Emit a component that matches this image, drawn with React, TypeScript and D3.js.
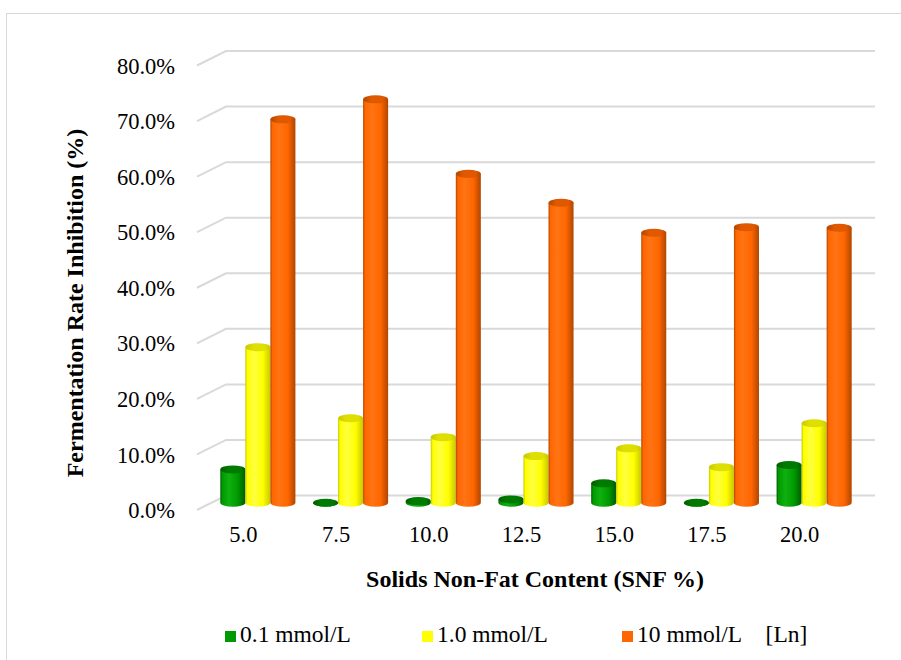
import React from "react";
import * as d3 from "d3";

// SNF categories and inhibition values (fractions) for each lanthanum dose
const categories = ["5.0", "7.5", "10.0", "12.5", "15.0", "17.5", "20.0"];
const seriesNames = ["0.1 mmol/L", "1.0 mmol/L", "10 mmol/L"];
const lowDose = [0.060, 0.0, 0.003, 0.006, 0.035, 0.0, 0.068];
const midDose = [0.280, 0.152, 0.118, 0.084, 0.098, 0.064, 0.143];
const highDose = [0.690, 0.726, 0.592, 0.540, 0.486, 0.496, 0.495];
const yTicks = [0, 0.1, 0.2, 0.3, 0.4, 0.5, 0.6, 0.7, 0.8];

const seriesValues = [lowDose, midDose, highDose];

const palette = [
  { body: "#009a00", light: "#10b010", dark: "#005c00", top: "#007a00" },
  { body: "#ffff00", light: "#ffff40", dark: "#c8c800", top: "#dede00" },
  { body: "#ff6600", light: "#ff7414", dark: "#b04600", top: "#e05800" },
];

const W = 901;
const H = 660;

// 3D projection: front plane origin and depth offset to the back wall
const frontX = 197;
const frontY = 510;
const depthX = 29;
const depthY = -14.5;
const plotW = 649;
const plotH = 444.5;

export default function App() {
  const x = d3
    .scaleBand<string>()
    .domain(categories)
    .range([0, plotW])
    .paddingInner(0.19)
    .paddingOuter(0.095);
  const xs = d3
    .scaleBand<string>()
    .domain(seriesNames)
    .range([0, x.bandwidth()])
    .padding(0);
  const y = d3.scaleLinear().domain([0, 0.8]).range([0, plotH]);
  const fmt = d3.format(".1%");

  const midX = frontX + depthX / 2;
  const midY = frontY + depthY / 2;
  const backX = frontX + depthX;
  const backY = frontY + depthY;

  const rx = xs.bandwidth() / 2;
  const ry = 4;

  const cylinders: React.ReactNode[] = [];
  categories.forEach((c, ci) => {
    seriesNames.forEach((s, si) => {
      const v = seriesValues[si][ci];
      const cx = midX + (x(c) ?? 0) + (xs(s) ?? 0) + rx;
      const yb = midY;
      const yt = midY - y(v);
      const l = cx - rx;
      const r = cx + rx;
      cylinders.push(
        <g key={`${ci}-${si}`}>
          <path
            d={`M${l},${yt} L${l},${yb} A${rx},${ry} 0 0 0 ${r},${yb} L${r},${yt} Z`}
            fill={`url(#grad${si})`}
          />
          <ellipse cx={cx} cy={yt} rx={rx} ry={ry} fill={`url(#top${si})`} />
        </g>
      );
    });
  });

  return (
    <svg
      width={W}
      height={H}
      style={{ position: "absolute", left: 0, top: 0, background: "#fff" }}
      fontFamily="'Liberation Serif', 'Times New Roman', serif"
    >
      <defs>
        {palette.map((p, i) => (
          <linearGradient key={i} id={`grad${i}`} x1="0" x2="1" y1="0" y2="0">
            <stop offset="0" stopColor={p.dark} />
            <stop offset="0.08" stopColor={p.body} />
            <stop offset="0.35" stopColor={p.light} />
            <stop offset="0.7" stopColor={p.body} />
            <stop offset="1" stopColor={p.dark} />
          </linearGradient>
        ))}
        {palette.map((p, i) => (
          <linearGradient key={i} id={`top${i}`} x1="0" x2="1" y1="0" y2="0">
            <stop offset="0" stopColor={p.dark} />
            <stop offset="0.3" stopColor={p.top} />
            <stop offset="0.8" stopColor={p.top} />
            <stop offset="1" stopColor={p.dark} />
          </linearGradient>
        ))}
      </defs>
      <rect x={6.5} y={13.5} width={W} height={H} fill="#fff" stroke="#d9d9d9" strokeWidth={1} />

      {/* gridlines: front-left corner up to the back wall, then across */}
      <g stroke="#d9d9d9" strokeWidth={2} fill="none">
        {yTicks.map((t) => (
          <path
            key={t}
            d={`M${frontX},${frontY - y(t)} L${backX},${backY - y(t)} L${backX + plotW},${backY - y(t)}`}
          />
        ))}
      </g>

      {/* tick labels */}
      <g fontSize={22.5} fill="#000" textAnchor="end">
        {yTicks.map((t) => (
          <text key={t} x={175} y={frontY - y(t) + 3} dominantBaseline="middle">
            {fmt(t)}
          </text>
        ))}
      </g>
      <g fontSize={22.5} fill="#000" textAnchor="middle">
        {categories.map((c) => (
          <text key={c} x={frontX + (x(c) ?? 0) + x.bandwidth() / 2} y={537} dominantBaseline="middle">
            {c}
          </text>
        ))}
      </g>

      {cylinders}

      <text
        transform={`translate(77,303) rotate(-90)`}
        textAnchor="middle"
        dominantBaseline="middle"
        fontSize={24}
        fontWeight="bold"
      >
        Fermentation Rate Inhibition (%)
      </text>
      <text x={535} y={581} textAnchor="middle" dominantBaseline="middle" fontSize={24} fontWeight="bold">
        Solids Non-Fat Content (SNF %)
      </text>

      {/* legend */}
      <g fontSize={23.5}>
        {[
          { x: 225, label: "0.1 mmol/L" },
          { x: 422, label: "1.0 mmol/L" },
          { x: 622, label: "10 mmol/L\u00a0\u00a0\u00a0\u00a0[Ln]" },
        ].map((e, i) => (
          <g key={i}>
            <rect x={e.x} y={631} width={11} height={11} fill={palette[i].body} />
            <text x={e.x + 15} y={637} dominantBaseline="middle">
              {e.label}
            </text>
          </g>
        ))}
      </g>
    </svg>
  );
}
